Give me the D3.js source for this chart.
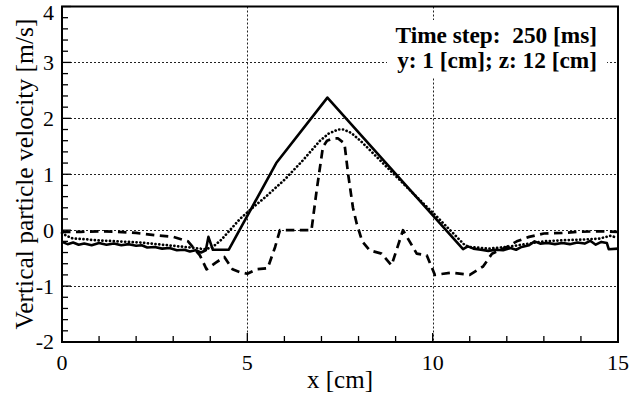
<!DOCTYPE html>
<html>
<head>
<meta charset="utf-8">
<script src="https://cdn.jsdelivr.net/npm/d3@7"></script>
<style>
  html, body { margin: 0; padding: 0; background: #fff; }
  svg { display: block; }
</style>
</head>
<body>
<svg id="chart" width="630" height="400"></svg>
<script>
// Solid line: vertical particle velocity (m/s) along x (cm)
const solidX = [0, 0.15, 0.3, 0.45, 0.6, 0.8, 1.0, 1.2, 1.4, 1.6, 1.8, 2.0, 2.15, 2.3, 2.5, 2.7, 2.9, 3.1, 3.3, 3.45, 3.6, 3.75, 3.88, 3.95, 4.07, 4.5, 5.78, 7.16, 10.82, 10.95, 11.1, 11.3, 11.5, 11.7, 11.9, 12.1, 12.25, 12.4, 12.6, 12.75, 12.9, 13.1, 13.3, 13.5, 13.7, 13.9, 14.1, 14.25, 14.4, 14.55, 14.7, 14.75, 15];
const solidY = [-0.21, -0.25, -0.22, -0.26, -0.24, -0.27, -0.23, -0.26, -0.24, -0.27, -0.25, -0.28, -0.27, -0.31, -0.30, -0.33, -0.32, -0.36, -0.35, -0.38, -0.36, -0.40, -0.36, -0.12, -0.35, -0.35, 1.2, 2.37, -0.34, -0.29, -0.33, -0.35, -0.37, -0.35, -0.36, -0.32, -0.35, -0.30, -0.27, -0.20, -0.24, -0.23, -0.25, -0.23, -0.25, -0.22, -0.24, -0.19, -0.26, -0.21, -0.23, -0.34, -0.33];

// Dashed line
const dashX = [0, 0.5, 1.0, 1.5, 2.0, 2.5, 3.0, 3.4, 3.72, 3.9, 4.15, 4.38, 4.6, 4.8, 5.0, 5.25, 5.55, 5.75, 5.88, 6.73, 6.87, 7.04, 7.15, 7.3, 7.45, 7.62, 7.72, 7.85, 7.95, 8.1, 8.3, 8.62, 8.89, 9.2, 9.57, 9.84, 10.06, 10.5, 11.0, 11.36, 11.6, 12.0, 12.27, 12.6, 13.0, 13.5, 13.9, 14.5, 15];
const dashY = [-0.03, -0.03, -0.02, -0.03, -0.05, -0.09, -0.12, -0.2, -0.45, -0.70, -0.58, -0.48, -0.70, -0.75, -0.78, -0.70, -0.68, -0.30, 0, 0, 0.71, 1.49, 1.60, 1.64, 1.64, 1.55, 1.0, 0.4, 0.12, -0.2, -0.36, -0.42, -0.63, 0, -0.42, -0.45, -0.80, -0.76, -0.80, -0.65, -0.42, -0.30, -0.20, -0.12, -0.06, -0.05, -0.03, -0.02, -0.03];

// Dotted line
const dotX = [0, 0.12, 0.3, 0.6, 0.9, 1.2, 1.5, 1.8, 2.1, 2.4, 2.7, 3.0, 3.3, 3.6, 3.85, 4.05, 4.3, 4.53, 4.8, 5.07, 5.5, 6.0, 6.5, 6.96, 7.2, 7.45, 7.6, 7.8, 8.05, 8.31, 9.0, 9.5, 10.1, 10.5, 10.87, 11.0, 11.5, 12.0, 12.5, 13.0, 13.5, 14.0, 14.5, 14.8, 14.95];
const dotY = [-0.05, -0.10, -0.15, -0.16, -0.18, -0.19, -0.20, -0.21, -0.22, -0.24, -0.26, -0.28, -0.30, -0.32, -0.34, -0.31, -0.17, 0, 0.20, 0.36, 0.60, 0.90, 1.25, 1.60, 1.73, 1.80, 1.80, 1.74, 1.60, 1.43, 0.97, 0.64, 0.25, -0.02, -0.27, -0.30, -0.33, -0.30, -0.25, -0.20, -0.18, -0.17, -0.15, -0.10, -0.13];

const xTicks = [0, 5, 10, 15];
const yTicks = [-2, -1, 0, 1, 2, 3, 4];
const xMinor = d3.range(0, 15.01, 1);
const yMinor = d3.range(-2, 4.01, 0.2);
const infoLines = ["Time step:\u00a0 250 [ms]", "y: 1 [cm]; z: 12 [cm]"];

const FONT = "Liberation Serif";
const svg = d3.select("#chart");
const L = 62, R = 618, T = 6.5, B = 342;
const x = d3.scaleLinear().domain([0, 15]).range([L, R]);
const y = d3.scaleLinear().domain([-2, 4]).range([B, T]);

// dotted grid at major ticks
const grid = svg.append("g").attr("stroke", "#222").attr("stroke-width", 1).attr("stroke-dasharray", "2,2");
grid.selectAll("line.gx").data(xTicks.filter(v => v > 0 && v < 15)).join("line")
  .attr("x1", d => Math.round(x(d)) + 0.5).attr("x2", d => Math.round(x(d)) + 0.5)
  .attr("y1", T).attr("y2", B);
grid.selectAll("line.gy").data(yTicks.filter(v => v > -2 && v < 4)).join("line")
  .attr("y1", d => Math.round(y(d)) + 0.5).attr("y2", d => Math.round(y(d)) + 0.5)
  .attr("x1", L).attr("x2", R);

// inside tick marks on left and bottom
const ticks = svg.append("g").attr("stroke", "#000").attr("stroke-width", 1.3);
ticks.selectAll("line.ty").data(yMinor).join("line")
  .attr("x1", L).attr("x2", d => L + (Math.abs(d - Math.round(d)) < 1e-6 ? 9 : 6))
  .attr("y1", d => y(d)).attr("y2", d => y(d));
ticks.selectAll("line.tx").data(xMinor).join("line")
  .attr("y1", B).attr("y2", d => B - (d % 5 === 0 ? 9 : 6))
  .attr("x1", d => x(d)).attr("x2", d => x(d));

// info box with white background
const info = svg.append("g");
info.append("rect").attr("x", 387).attr("y", 20).attr("width", 220).attr("height", 57).attr("fill", "#fff");
info.selectAll("text").data(infoLines).join("text")
  .attr("x", 597).attr("y", (d, i) => 43 + i * 25)
  .attr("text-anchor", "end").attr("font-weight", "bold").attr("font-size", 23.3)
  .attr("font-family", FONT)
  .text(d => d);

// curves
const line = d3.line().x(d => x(d[0])).y(d => y(d[1]));
const curves = svg.append("g").attr("fill", "none").attr("stroke", "#000").attr("stroke-linejoin", "round");
curves.append("path").datum(d3.zip(dotX, dotY)).attr("d", line)
  .attr("stroke-width", 2.7).attr("stroke-linecap", "round").attr("stroke-dasharray", "0.1,3.7");
curves.append("path").datum(d3.zip(dashX, dashY)).attr("d", line)
  .attr("stroke-width", 2.7).attr("stroke-dasharray", "8.5,5.5");
curves.append("path").datum(d3.zip(solidX, solidY)).attr("d", line)
  .attr("stroke-width", 2.6);

// frame
svg.append("rect").attr("x", L).attr("y", T).attr("width", R - L).attr("height", B - T)
  .attr("fill", "none").attr("stroke", "#000").attr("stroke-width", 2);

// tick labels
svg.append("g").selectAll("text").data(xTicks).join("text")
  .attr("x", d => x(d)).attr("y", 370).attr("text-anchor", "middle").attr("font-size", 22)
  .attr("font-family", FONT)
  .text(d => d);
svg.append("g").selectAll("text").data(yTicks).join("text")
  .attr("x", 54).attr("y", d => Math.max(y(d), 13)).attr("dy", "0.34em").attr("text-anchor", "end").attr("font-size", 22)
  .attr("font-family", FONT)
  .text(d => d);

// axis titles
svg.append("text").attr("x", 340).attr("y", 388).attr("text-anchor", "middle").attr("font-size", 25)
  .attr("font-family", FONT)
  .text("x [cm]");
svg.append("text").attr("transform", "translate(33,174) rotate(-90)").attr("text-anchor", "middle").attr("font-size", 25.5)
  .attr("font-family", FONT)
  .text("Vertical particle velocity [m/s]");
</script>
</body>
</html>
